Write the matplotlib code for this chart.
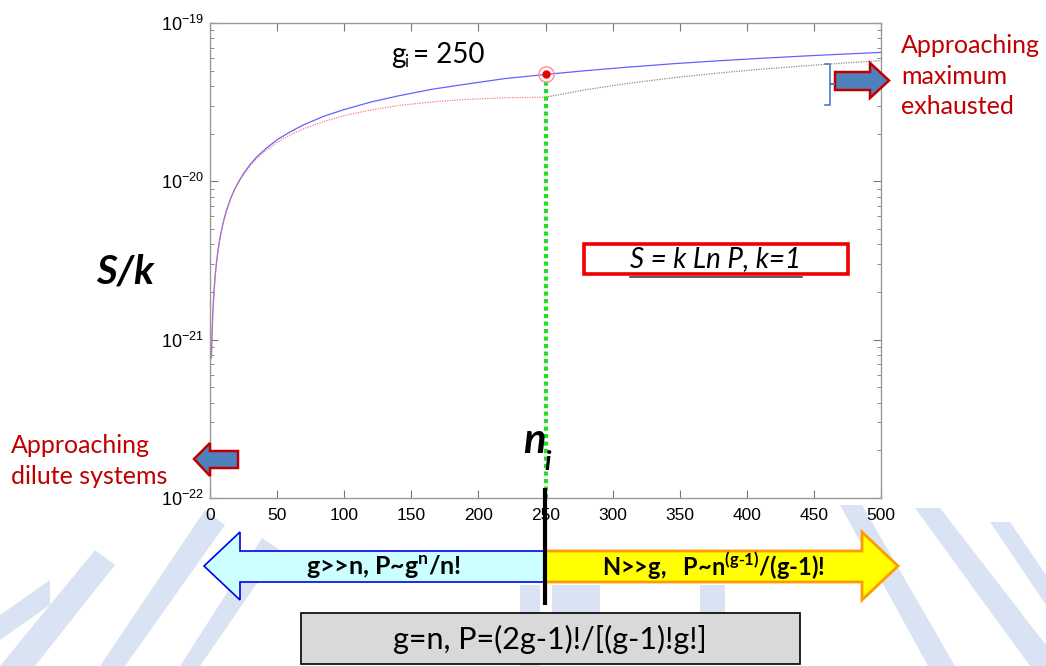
import numpy as np
import matplotlib
matplotlib.use("Agg")
import matplotlib.pyplot as plt
from matplotlib.patches import Polygon, Rectangle
from matplotlib.ticker import LogLocator, MultipleLocator

plt.rcParams['font.family'] = ['Liberation Sans', 'DejaVu Sans']
plt.rcParams['axes.unicode_minus'] = False

# entropy S/k, g_i = 250
n_exact = [1, 2, 3, 4, 5, 6, 7, 8, 10, 12, 14, 16, 18, 21, 25, 30, 35, 42, 50, 60, 70, 85,
           100, 120, 140, 165, 190, 220, 250, 280, 310, 345, 380, 410, 440, 470, 500]
s_exact = [7.6e-22, 1.43e-21, 2.04e-21, 2.61e-21, 3.16e-21, 3.67e-21, 4.17e-21, 4.65e-21,
           5.56e-21, 6.42e-21, 7.24e-21, 8.02e-21, 8.78e-21, 9.85e-21, 1.12e-20, 1.28e-20,
           1.43e-20, 1.62e-20, 1.83e-20, 2.06e-20, 2.28e-20, 2.58e-20, 2.84e-20, 3.17e-20,
           3.46e-20, 3.81e-20, 4.10e-20, 4.46e-20, 4.73e-20, 5.00e-20, 5.25e-20, 5.53e-20,
           5.78e-20, 5.98e-20, 6.17e-20, 6.35e-20, 6.52e-20]

n_dilute = [1, 2, 3, 4, 5, 6, 7, 8, 10, 12, 14, 16, 18, 21, 25, 30, 35, 42, 50, 60, 70, 85,
            100, 120, 140, 165, 190, 220, 250]
s_dilute = [7.6e-22, 1.43e-21, 2.04e-21, 2.61e-21, 3.15e-21, 3.66e-21, 4.16e-21, 4.63e-21,
            5.53e-21, 6.38e-21, 7.19e-21, 7.96e-21, 8.69e-21, 9.74e-21, 1.10e-20, 1.255e-20,
            1.40e-20, 1.575e-20, 1.76e-20, 1.97e-20, 2.15e-20, 2.39e-20, 2.60e-20, 2.825e-20,
            3.01e-20, 3.17e-20, 3.29e-20, 3.37e-20, 3.40e-20]

n_dense = [250, 280, 310, 345, 380, 410, 440, 470, 500]
s_dense = [3.40e-20, 3.79e-20, 4.14e-20, 4.51e-20, 4.84e-20, 5.10e-20, 5.34e-20, 5.57e-20, 5.78e-20]

n_i = 250
s_i = 4.73e-20
x_ticks = [0, 50, 100, 150, 200, 250, 300, 350, 400, 450, 500]
y_ticks = [1e-22, 1e-21, 1e-20, 1e-19]

W, H = 1046, 666
fig = plt.figure(figsize=(W / 100, H / 100), dpi=100)

# background layer (faint watermark), pixel coordinates
bg = fig.add_axes([0, 0, 1, 1], zorder=0)
bg.set_xlim(0, W)
bg.set_ylim(H, 0)
bg.axis('off')
wm = '#dae3f4'
for pts in [
    [(0, 615), (0, 640), (50, 605), (50, 580)],
    [(0, 666), (35, 666), (115, 565), (95, 550)],
    [(100, 666), (125, 666), (225, 525), (205, 510)],
    [(180, 666), (200, 666), (280, 550), (262, 538)],
    [(520, 585), (540, 585), (540, 666), (520, 666)],
    [(552, 585), (600, 585), (600, 613), (552, 613)],
    [(700, 585), (725, 585), (725, 613), (700, 613)],
    [(840, 505), (862, 505), (955, 666), (928, 666)],
    [(915, 508), (940, 508), (1046, 645), (1046, 666), (1030, 666)],
    [(990, 522), (1010, 522), (1046, 575), (1046, 605)],
]:
    bg.add_patch(Polygon(pts, closed=True, facecolor=wm, edgecolor='none'))

ax = fig.add_axes([210 / W, 1 - 498 / H, 671 / W, 475 / H], zorder=2)
ax.patch.set_alpha(0)
ax.set_yscale('log')
ax.set_xlim(0, 500)
ax.set_ylim(1e-22, 1e-19)

ax.plot(n_exact, s_exact, '-', color='#6262ff', lw=0.9)
ax.plot(n_dilute, s_dilute, linestyle=(0, (1, 1)), color='#ff7a7a', lw=0.9)
ax.plot(n_dense, s_dense, linestyle=(0, (1, 1)), color='#8a8a8a', lw=0.9)
ax.plot([n_i, n_i], [s_i, 1e-22], linestyle=(0, (1, 0.8)), color='#22dd22', lw=3)
ax.plot([n_i], [s_i], 'o', mfc='none', mec='#ff9090', ms=11, mew=1)
ax.plot([n_i], [s_i], 'o', color='#ee0000', ms=5)

ax.set_xticks(x_ticks)
ax.xaxis.set_minor_locator(MultipleLocator(50))
ax.set_yticks(y_ticks)
ax.set_yticklabels([r'$\mathregular{10^{-22}}$', r'$\mathregular{10^{-21}}$',
                    r'$\mathregular{10^{-20}}$', r'$\mathregular{10^{-19}}$'])
ax.yaxis.set_minor_locator(LogLocator(base=10, subs=np.arange(2, 10), numticks=10))
ax.set_ylim(1e-22, 1e-19)
ax.tick_params(which='both', direction='in', top=True, right=True, color='#777777')
ax.tick_params(which='major', length=6, labelsize=12.5, pad=7)
ax.tick_params(which='minor', length=3)
ax.tick_params(axis='y', which='major', pad=4, labelsize=13)
for sp in ax.spines.values():
    sp.set_color('#999999')
    sp.set_linewidth(1)

# foreground layer, pixel coordinates
fg = fig.add_axes([0, 0, 1, 1], zorder=5)
fg.set_xlim(0, W)
fg.set_ylim(H, 0)
fg.axis('off')
fg.patch.set_alpha(0)

cal = 'Lato'
red = '#c00000'

fg.text(391, 55, 'g', family=cal, fontsize=20, ha='left', va='center')
fg.text(404, 62, 'i', family=cal, fontsize=12, ha='left', va='center')
fg.text(413, 55, '= 250', family=cal, fontsize=20, ha='left', va='center')

fg.text(901, 76, 'Approaching\nmaximum\nexhausted', family=cal, fontsize=18,
        color=red, ha='left', va='center', linespacing=1.42)
fg.text(11, 461, 'Approaching\ndilute systems', family=cal, fontsize=18,
        color=red, ha='left', va='center', linespacing=1.42)

# small blue arrows and bracket
fg.add_patch(Polygon([(835, 72), (870, 72), (870, 63), (889, 80.5), (870, 98), (870, 90), (835, 90)],
                     closed=True, facecolor='#4f81bd', edgecolor=red, lw=1.8))
fg.add_patch(Polygon([(238, 451), (210, 451), (210, 443), (194, 459), (210, 476), (210, 468), (238, 468)],
                     closed=True, facecolor='#4f81bd', edgecolor=red, lw=1.8))
fg.plot([825, 829.5, 829.5, 834, 829.5, 829.5, 825],
        [63.5, 63.5, 83.5, 83.5, 83.5, 105, 105], color='#4a7ebb', lw=1.2)

fg.text(125, 272, 'S/k', family=cal, fontsize=29, fontweight='bold', fontstyle='italic',
        ha='center', va='center')
fg.text(534, 441, 'n', family=cal, fontsize=30, fontweight='bold', fontstyle='italic',
        ha='center', va='center')
fg.text(548, 462, 'i', family=cal, fontsize=19, fontweight='bold', fontstyle='italic',
        ha='center', va='center')

fg.add_patch(Rectangle((584, 243.5), 264, 30, facecolor='white', edgecolor='#ee0000', lw=2.6))
fg.text(716, 259, 'S = k Ln P, k=1', family=cal, fontsize=20, fontstyle='italic',
        ha='center', va='center')
fg.plot([630, 802], [277, 277], color='#444444', lw=1.2)

# regime arrows
fg.add_patch(Polygon([(545, 551), (240, 551), (240, 532), (204, 566), (240, 600), (240, 582), (545, 582)],
                     closed=True, facecolor='#ccffff', edgecolor='#0000ee', lw=1.2))
fg.add_patch(Polygon([(545, 551), (862, 551), (862, 532), (898, 566), (862, 600), (862, 582), (545, 582)],
                     closed=True, facecolor='#ffff00', edgecolor='#ff9a00', lw=2))
fg.text(384, 566, r'g>>n, P~g$^\mathregular{n}$/n!', family=cal, fontsize=18, fontweight='bold',
        ha='center', va='center')
fg.text(713, 566, r'N>>g,   P~n$^\mathregular{(g\text{-}1)}$/(g-1)!', family=cal, fontsize=17,
        fontweight='bold', ha='center', va='center')
fg.plot([545, 545], [488, 605], color='black', lw=3, solid_capstyle='butt')

fg.add_patch(Rectangle((301, 613), 499, 51, facecolor='#d9d9d9', edgecolor='black', lw=1.2))
fg.text(550, 639, 'g=n, P=(2g-1)!/[(g-1)!g!]', family=cal, fontsize=22,
        ha='center', va='center')

fig.savefig('out.png', dpi=100)
